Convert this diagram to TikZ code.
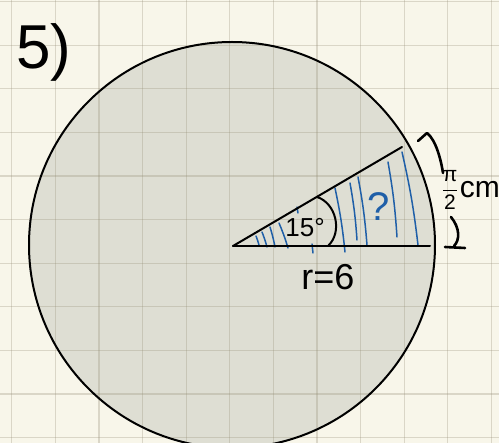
\documentclass[tikz,border=0pt]{standalone}
\usepackage{fontspec}
\setmainfont{Liberation Sans}
\usetikzlibrary{positioning}
\definecolor{paper}{HTML}{F8F6EA}
\definecolor{gridline}{HTML}{968F78}
\definecolor{disc}{HTML}{DEDED3}
\definecolor{hatch}{HTML}{1F5FA8}

\begin{document}
\begin{tikzpicture}[x=1pt, y=-1pt,
  ink/.style={line width=2pt, line cap=round, line join=round},
  pen/.style={line width=2.6pt, line cap=round, line join=round},
  hatchline/.style={draw=hatch, line width=1.5pt, line cap=round},
  hand/.style={inner sep=0pt, font=\fontsize{#1}{#1}\selectfont}]
  \useasboundingbox (0,0) rectangle (499,443);
  \clip (0,0) rectangle (499,443);
  \fill[paper] (0,0) rectangle (499,443);
  % disc and squared paper
  \coordinate (M) at (232,245);
  \fill[disc] (M) circle[radius=203pt];
  \foreach \k in {0,...,11} {
    \draw[gridline, opacity=0.3, line width=1.2pt] ({11.7+43.6*\k},0) -- ++(0,443);
    \draw[gridline, opacity=0.3, line width=1.2pt] (0,{1.7+43.6*\k}) -- ++(499,0);
  }
  \draw[ink] (M) circle[radius=203pt];
  % sector
  \coordinate (O) at (233,246);
  \coordinate (A) at (430,246);
  \coordinate (B) at (402,147);
  \foreach \xa/\ya/\xb/\yb in {256/236/259/245, 262/232/267/247, 270/227/275/247,
      279/223/288/248, 335/188/345/252, 350/183/357/240, 358/177/367/245,
      388/162/397/237, 402/152/418/245}
    \draw[hatchline] (\xa,\ya) to[bend left=3] (\xb,\yb);
  \draw[hatchline] (297,207) -- (298,213);
  \draw[hatchline] (312,244) -- (313,253);
  \draw[ink] (O) -- (A);
  \draw[ink] (O) -- (B);
  \draw[ink] (317,197) .. controls (336,203) and (343,232) .. (328,246);
  % labels
  \node[hand=62] (part) at (44,52) {5)};
  \node[hand=26] (angle) at (305,228) {15°};
  \node[hand=36] (radius) at (328,277) {r=6};
  \node[hand=40, text=hatch] (unknown) at (379,207) {?};
  \node[hand=21] (arclen) at (450,190) {$\displaystyle\frac{\mbox{π}}{\mbox{2}}$};
  \node[hand=30, right=1pt of arclen] (unit) {cm};
  % bracket for the arc
  \draw[pen] (418,141) -- (427,133) .. controls (436,140) and (441,160) .. (443,173);
  \draw[pen] (451,217) .. controls (460,228) and (460,240) .. (454,246);
  \draw[pen] (445,247) -- (465,248);
\end{tikzpicture}
\end{document}
